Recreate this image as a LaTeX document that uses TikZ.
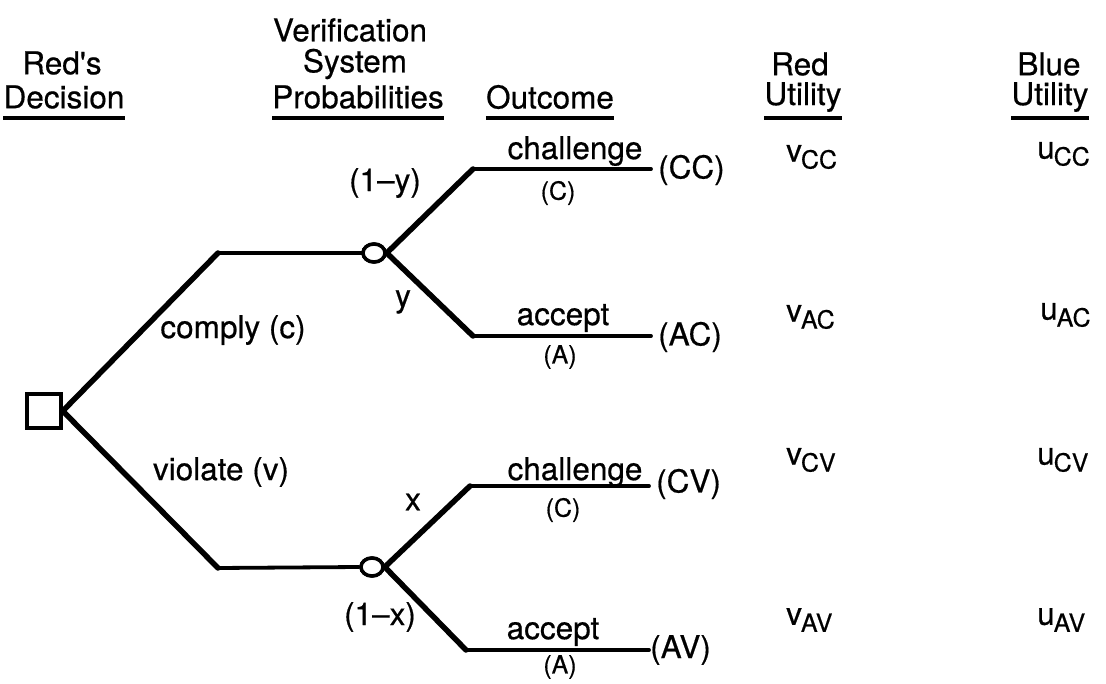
\documentclass[tikz,border=0pt]{standalone}
\usepackage{fontspec}
\setmainfont{TeX Gyre Heros}[FakeBold=0.5, Ligatures=TeXOff]
\usetikzlibrary{shapes.geometric}
\tikzset{
  txt/.style={inner sep=0pt, font=\fontsize{31.5}{34}\selectfont},
  small/.style={inner sep=0pt, font=\fontsize{25}{28}\selectfont},
  branch/.style={line width=5.5pt, line join=round, line cap=round},
  flat/.style={line width=3.8pt, line cap=round},
  uline/.style={line width=3.5pt},
  chance/.style={ellipse, draw, line width=3.5pt, minimum width=22pt, minimum height=18pt, inner sep=0pt, fill=white},
  decision/.style={rectangle, draw, line width=3.5pt, minimum size=34pt, inner sep=0pt, fill=white},
}
\newcommand{\util}[2]{#1\kern-1pt\raisebox{-7pt}{\fontsize{25}{28}\selectfont #2}}
\begin{document}
\begin{tikzpicture}[x=1pt, y=-1pt]
\useasboundingbox (0,0) rectangle (1106,684);

% column headings
\node[txt] (h1a) at (62,63) {Red's};
\node[txt] (h1b) at (64,97) {Decision};
\node[txt] (h2a) at (350,30) {Verification};
\node[txt] (h2b) at (355,64) {System};
\node[txt] (h2c) at (358,97) {Probabilities};
\node[txt] (h3) at (550,97) {Outcome};
\node[txt] (h4a) at (800,64) {Red};
\node[txt] (h4b) at (803,97) {Utility};
\node[txt] (h5a) at (1049,64) {Blue};
\node[txt] (h5b) at (1050,97) {Utility};
\foreach \h in {h1b,h2c,h3,h4b,h5b}
  \draw[uline] (\h.west |- 0,118) -- (\h.east |- 0,118);

% decision node and chance nodes
\node[decision] (red) at (44,411) {};
\node[chance] (cy) at (374,253) {};
\node[chance] (cx) at (372,567) {};

% bends and ends of the branches
\coordinate (bc) at (218,253);
\coordinate (bv) at (218,568);
\coordinate (b1) at (473,169);
\coordinate (b2) at (473,336);
\coordinate (b3) at (470,486);
\coordinate (b4) at (466,650);
\coordinate (e1) at (651,169);
\coordinate (e2) at (651,336);
\coordinate (e3) at (649,486);
\coordinate (e4) at (649,650);

% Red's choice
\draw[branch] (red.east) -- (bc);
\draw[flat] (bc) -- (cy.west);
\draw[branch] (red.east) -- (bv);
\draw[flat] (bv) -- (cx.west);

% verification outcomes
\draw[branch] (cy.east) -- (b1);
\draw[flat] (b1) -- (e1);
\draw[branch] (cy.east) -- (b2);
\draw[flat] (b2) -- (e2);
\draw[branch] (cx.east) -- (b3);
\draw[flat] (b3) -- (e3);
\draw[branch] (cx.east) -- (b4);
\draw[flat] (b4) -- (e4);
\node[chance] at (cy) {};
\node[chance] at (cx) {};

% branch labels
\node[txt] (lc) at (233,330) {comply (c)};
\node[txt] (lv) at (221,472) {violate (v)};
\node[txt] (p1) at (385,183) {(1\textendash y)};
\node[txt] (p2) at (403,302) {y};
\node[txt] (p3) at (413,502) {x};
\node[txt] (p4) at (380,617) {(1\textendash x)};

\node[txt] (o1) at (575,151) {challenge};
\node[small] (o1s) at (558,193) {(C)};
\node[txt, anchor=west] (o1r) at (658,170) {(CC)};
\node[txt] (o2) at (563,318) {accept};
\node[small] (o2s) at (560,357) {(A)};
\node[txt, anchor=west] (o2r) at (658,337) {(AC)};
\node[txt] (o3) at (575,472) {challenge};
\node[small] (o3s) at (563,510) {(C)};
\node[txt, anchor=west] (o3r) at (656,484) {(CV)};
\node[txt] (o4) at (553,632) {accept};
\node[small] (o4s) at (560,667) {(A)};
\node[txt, anchor=west] (o4r) at (650,650) {(AV)};

% utilities
\node[txt, anchor=west] (v1) at (786,157) {\util{v}{CC}};
\node[txt, anchor=west] (u1) at (1037,154) {\util{u}{CC}};
\node[txt, anchor=west] (v2) at (786,317) {\util{v}{AC}};
\node[txt, anchor=west] (u2) at (1040,315) {\util{u}{AC}};
\node[txt, anchor=west] (v3) at (786,460) {\util{v}{CV}};
\node[txt, anchor=west] (u3) at (1037,460) {\util{u}{CV}};
\node[txt, anchor=west] (v4) at (786,620) {\util{v}{AV}};
\node[txt, anchor=west] (u4) at (1037,620) {\util{u}{AV}};
\end{tikzpicture}
\end{document}
